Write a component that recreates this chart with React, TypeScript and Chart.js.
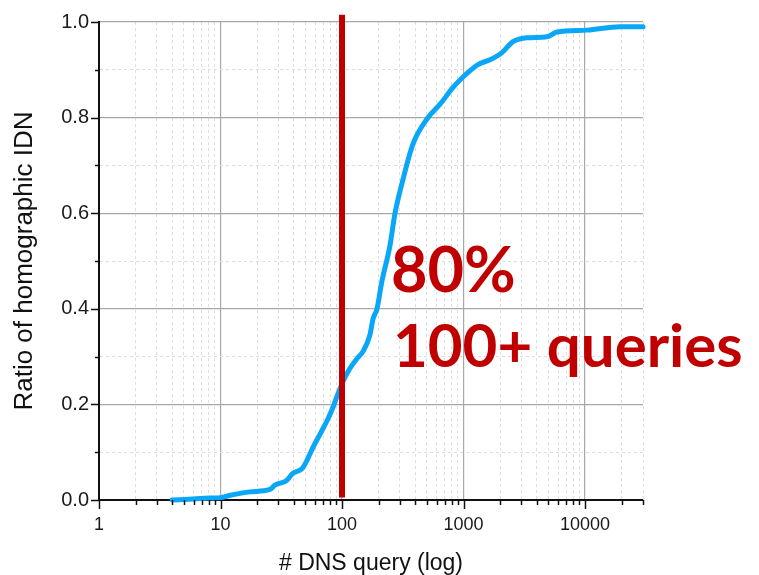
import React, { useEffect, useRef } from "react";
import { Chart, registerables } from "chart.js";

Chart.register(...registerables);

// ---- data ----
const CDF_X = [4, 6, 8, 10, 12, 17.5, 25.5, 28, 35, 39.5, 47, 51.5, 57.7, 66, 76.7, 84, 91, 102, 116, 133, 149, 170, 180, 194, 212, 248, 273, 312, 384, 500, 641, 820, 1000, 1316, 1652, 2074, 2555, 3333, 4866, 5890, 10380, 19400, 30000];
const CDF_Y = [0, 0.002, 0.004, 0.005, 0.01, 0.017, 0.022, 0.031, 0.041, 0.056, 0.066, 0.083, 0.11, 0.138, 0.17, 0.193, 0.217, 0.248, 0.275, 0.296, 0.311, 0.346, 0.379, 0.40, 0.455, 0.532, 0.60, 0.663, 0.745, 0.797, 0.828, 0.863, 0.886, 0.911, 0.921, 0.936, 0.959, 0.967, 0.969, 0.979, 0.983, 0.99, 0.99];

const MARK_X = 100;
const MARK_Y = [0.005, 1.015];

const X_DECADES = [1, 10, 100, 1000, 10000];
const X_MANTISSAS = [1, 2, 3, 4, 5, 6, 7, 8, 9];
const X_MIN = 1;
const X_MAX = 30000;
const X_TICK_LABELS = ["1", "10", "100", "1000", "10000"];

const Y_TICKS = [0, 0.1, 0.2, 0.3, 0.4, 0.5, 0.6, 0.7, 0.8, 0.9, 1.0];
const Y_MAJOR = [0, 0.2, 0.4, 0.6, 0.8, 1.0];
const Y_TICK_LABELS = ["0.0", "0.2", "0.4", "0.6", "0.8", "1.0"];

const X_TITLE = "# DNS query (log)";
const Y_TITLE = "Ratio of homographic IDN";
const NOTE_LINES = ["80%", "100+ queries"];

const X_TICKS: number[] = [];
X_DECADES.forEach((d) =>
  X_MANTISSAS.forEach((m) => {
    const v = d * m;
    if (v <= X_MAX) X_TICKS.push(v);
  })
);

const isXMajor = (v: number) => X_DECADES.some((d) => Math.abs(d - v) < 1e-9);
const yMajorIndex = (v: number) => Y_MAJOR.findIndex((m) => Math.abs(m - v) < 1e-6);

const SANS = "'Liberation Sans', Arial, sans-serif";

const tickPlugin = {
  id: "tickMarks",
  afterDraw(chart: any) {
    const { ctx, chartArea } = chart;
    const xs = chart.scales.x;
    const ys = chart.scales.y;
    ctx.save();
    ctx.strokeStyle = "#111";
    ctx.lineWidth = 1.5;
    X_TICKS.forEach((v) => {
      const px = Math.round(xs.getPixelForValue(v)) + 0.5;
      const len = isXMajor(v) ? 9 : 5;
      ctx.beginPath();
      ctx.moveTo(px, chartArea.bottom);
      ctx.lineTo(px, chartArea.bottom + len);
      ctx.stroke();
    });
    Y_TICKS.forEach((v) => {
      const py = Math.round(ys.getPixelForValue(v)) + 0.5;
      const len = yMajorIndex(v) >= 0 ? 8 : 4;
      ctx.beginPath();
      ctx.moveTo(chartArea.left, py);
      ctx.lineTo(chartArea.left - len, py);
      ctx.stroke();
    });
    ctx.restore();
  },
};

const notePlugin = {
  id: "note",
  afterDatasetsDraw(chart: any) {
    const { ctx } = chart;
    ctx.save();
    ctx.fillStyle = "#C00000";
    ctx.textAlign = "left";
    ctx.textBaseline = "alphabetic";
    ctx.font = "bold 63px Lato, 'Open Sans', sans-serif";
    ctx.fillText(NOTE_LINES[0], 391, 292);
    ctx.font = "bold 60px Lato, 'Open Sans', sans-serif";
    ctx.fillText(NOTE_LINES[1], 393, 367);
    ctx.restore();
  },
};

export default function App() {
  const ref = useRef<HTMLCanvasElement | null>(null);

  useEffect(() => {
    if (!ref.current) return;
    const chart = new Chart(ref.current, {
      type: "line",
      data: {
        datasets: [
          {
            data: MARK_Y.map((y) => ({ x: MARK_X, y })),
            borderColor: "#C00000",
            borderWidth: 6,
            pointRadius: 0,
            clip: false,
            borderCapStyle: "butt",
          } as any,
          {
            data: CDF_X.map((x, i) => ({ x, y: CDF_Y[i] })),
            borderColor: "#0AA6F7",
            borderWidth: 5,
            pointRadius: 0,
            cubicInterpolationMode: "monotone",
            borderCapStyle: "round",
            borderJoinStyle: "round",
            clip: false,
          } as any,
        ],
      },
      options: {
        animation: false,
        responsive: false,
        events: [],
        layout: { padding: { top: 17, right: 116, left: 0, bottom: 0 } },
        plugins: { legend: { display: false }, tooltip: { enabled: false } },
        scales: {
          x: {
            type: "logarithmic",
            min: X_MIN,
            max: X_MAX,
            afterFit: (s: any) => {
              s.height = 75;
            },
            afterBuildTicks: (s: any) => {
              s.ticks = X_TICKS.map((v) => ({ value: v, major: isXMajor(v) }));
            },
            ticks: {
              autoSkip: false,
              maxRotation: 0,
              padding: 14,
              color: "#1a1a1a",
              font: { family: SANS, size: 18 },
              callback: (v: any) => {
                const i = X_DECADES.findIndex((d) => Math.abs(d - Number(v)) < 1e-9);
                return i >= 0 ? X_TICK_LABELS[i] : "";
              },
            },
            grid: {
              drawTicks: false,
              color: (c: any) =>
                c.tick ? (isXMajor(c.tick.value) ? "#a8a8a8" : "#dedede") : "#a8a8a8",
              lineWidth: (c: any) => (c.tick && isXMajor(c.tick.value) ? 1.2 : 1),
            },
            border: {
              display: true,
              color: "#111",
              width: 2,
              dash: (c: any) => (c.tick && !isXMajor(c.tick.value) ? [3, 3] : []),
            },
            title: {
              display: true,
              text: X_TITLE,
              color: "#111",
              font: { family: SANS, size: 23, lineHeight: 1 },
              padding: { top: 0, bottom: 0 },
            },
          } as any,
          y: {
            type: "linear",
            min: 0,
            max: 1,
            afterFit: (s: any) => {
              s.width = 99;
            },
            afterBuildTicks: (s: any) => {
              s.ticks = Y_TICKS.map((v) => ({ value: v }));
            },
            ticks: {
              autoSkip: false,
              padding: 10,
              color: "#1a1a1a",
              font: { family: SANS, size: 20 },
              callback: (v: any) => {
                const i = yMajorIndex(Number(v));
                return i >= 0 ? Y_TICK_LABELS[i] : "";
              },
            },
            grid: {
              drawTicks: false,
              color: (c: any) =>
                c.tick ? (yMajorIndex(c.tick.value) >= 0 ? "#a8a8a8" : "#dedede") : "#a8a8a8",
              lineWidth: (c: any) => (c.tick && yMajorIndex(c.tick.value) >= 0 ? 1.2 : 1),
            },
            border: {
              display: true,
              color: "#111",
              width: 2,
              dash: (c: any) => (c.tick && yMajorIndex(c.tick.value) < 0 ? [3, 3] : []),
            },
            title: {
              display: true,
              text: Y_TITLE,
              color: "#111",
              font: { family: SANS, size: 26, lineHeight: 1 },
              padding: { top: 12, bottom: 0 },
            },
          } as any,
        },
      },
      plugins: [tickPlugin, notePlugin],
    } as any);
    return () => chart.destroy();
  }, []);

  return (
    <div style={{ position: "fixed", left: 0, top: 0, width: 759, height: 575, background: "#fff" }}>
      <canvas ref={ref} width={759} height={575} style={{ display: "block" }} />
    </div>
  );
}
